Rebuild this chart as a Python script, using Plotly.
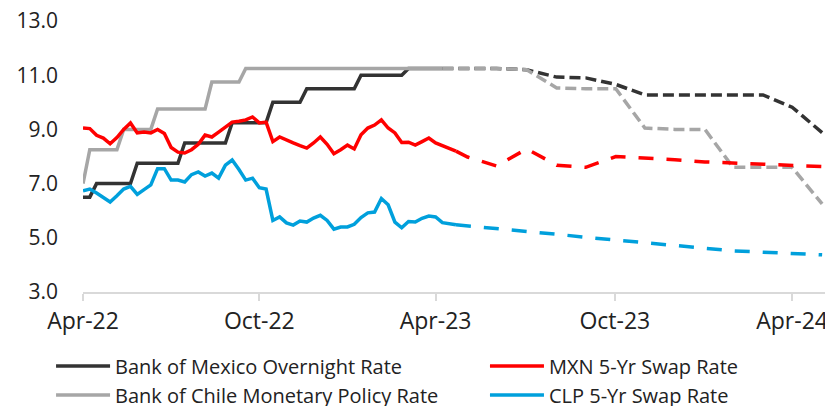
import pandas as pd
import plotly.graph_objects as go

# ---------------- data ----------------
hist_start = "2022-04-29"
hist_weeks = 56  # weekly observations (Fridays)
hist_dates = list(pd.date_range(hist_start, periods=hist_weeks, freq="7D"))

banxico_hist = [6.5, 6.5, 7.0, 7.0, 7.0, 7.0, 7.0, 7.0, 7.75, 7.75,
                7.75, 7.75, 7.75, 7.75, 7.75, 8.5, 8.5, 8.5, 8.5, 8.5,
                8.5, 8.5, 9.25, 9.25, 9.25, 9.25, 9.25, 9.25, 10.0, 10.0,
                10.0, 10.0, 10.0, 10.5, 10.5, 10.5, 10.5, 10.5, 10.5, 10.5,
                10.5, 11.0, 11.0, 11.0, 11.0, 11.0, 11.0, 11.0, 11.25, 11.25,
                11.25, 11.25, 11.25, 11.25]
bcch_hist = [7.0, 8.25, 8.25, 8.25, 8.25, 8.25, 9.0, 9.0, 9.0, 9.0,
             9.0, 9.75, 9.75, 9.75, 9.75, 9.75, 9.75, 9.75, 9.75, 10.75,
             10.75, 10.75, 10.75, 10.75, 11.25, 11.25, 11.25, 11.25, 11.25, 11.25,
             11.25, 11.25, 11.25, 11.25, 11.25, 11.25, 11.25, 11.25, 11.25, 11.25,
             11.25, 11.25, 11.25, 11.25, 11.25, 11.25, 11.25, 11.25, 11.25, 11.25,
             11.25, 11.25, 11.25, 11.25]
mxn_hist = [9.05, 9.03, 8.78, 8.68, 8.47, 8.70, 9.00, 9.24, 8.87, 8.90,
            8.87, 9.00, 8.85, 8.33, 8.16, 8.13, 8.25, 8.45, 8.79, 8.72,
            8.90, 9.09, 9.27, 9.30, 9.35, 9.46, 9.24, 9.27, 8.55, 8.72,
            8.60, 8.50, 8.40, 8.31, 8.50, 8.72, 8.45, 8.10, 8.25, 8.42,
            8.28, 8.80, 9.05, 9.16, 9.35, 9.05, 8.87, 8.52, 8.53, 8.42,
            8.55, 8.68, 8.50, 8.39, 8.28, 8.20]
clp_hist = [6.73, 6.80, 6.65, 6.50, 6.32, 6.55, 6.80, 6.90, 6.60, 6.78,
            6.95, 7.55, 7.55, 7.13, 7.13, 7.06, 7.33, 7.43, 7.28, 7.39,
            7.20, 7.68, 7.87, 7.52, 7.13, 7.20, 6.85, 6.80, 5.64, 5.77,
            5.55, 5.47, 5.62, 5.58, 5.73, 5.83, 5.64, 5.32, 5.40, 5.40,
            5.50, 5.75, 5.92, 5.95, 6.45, 6.22, 5.58, 5.37, 5.60, 5.58,
            5.72, 5.80, 5.77, 5.56, 5.52, 5.48]

fc_dates = ["2023-05-31", "2023-06-30", "2023-07-31", "2023-08-31", "2023-09-30",
            "2023-10-31", "2023-11-30", "2023-12-31", "2024-01-31", "2024-02-29",
            "2024-03-31", "2024-04-30", "2024-05-31"]
banxico_fc = [11.25, 11.25, 11.2, 10.93, 10.9, 10.66, 10.27, 10.27, 10.27, 10.27,
              10.27, 9.82, 8.88]
bcch_fc = [11.25, 11.25, 11.2, 10.53, 10.5, 10.5, 9.05, 9.0, 9.0, 7.6,
           7.6, 7.6, 6.25]
mxn_fc = [7.98, 7.65, 8.28, 7.68, 7.60, 8.00, 7.95, 7.88, 7.80, 7.76,
          7.72, 7.67, 7.63]
clp_fc = [5.44, 5.36, 5.26, 5.13, 5.02, 4.92, 4.82, 4.70, 4.60, 4.52,
          4.47, 4.42, 4.37]

names = ["Bank of Mexico Overnight Rate", "Bank of Chile Monetary Policy Rate",
         "MXN 5-Yr Swap Rate", "CLP 5-Yr Swap Rate"]
colors = ["#333333", "#A6A6A6", "#FF0000", "#00A0DC"]
legend_ids = ["legend", "legend", "legend2", "legend2"]

tick_vals = ["2022-04-29", "2022-10-28", "2023-04-28", "2023-10-30", "2024-04-30"]
tick_text = ["Apr-22", "Oct-22", "Apr-23", "Oct-23", "Apr-24"]
y_ticks = [3, 5, 7, 9, 11, 13]

# ---------------- figure ----------------
FONT = "Open Sans"
fig = go.Figure()
series = [(banxico_hist, banxico_fc), (bcch_hist, bcch_fc),
          (mxn_hist, mxn_fc), (clp_hist, clp_fc)]
dashes = ["11px,5px", "11px,5px", "15px,13px", "15px,13px"]
for (h, f), name, col, lg, dsh in zip(series, names, colors, legend_ids, dashes):
    hd = hist_dates[:len(h)]
    fig.add_trace(go.Scatter(x=hd, y=h, mode="lines", name=name,
                             line=dict(color=col, width=3.5), legend=lg))
    fig.add_trace(go.Scatter(x=[hd[-1]] + [pd.Timestamp(d) for d in fc_dates],
                             y=[h[-1]] + f, mode="lines", showlegend=False,
                             legend=lg,
                             line=dict(color=col, width=3.5, dash=dsh)))

legend_common = dict(orientation="v", xanchor="left", yanchor="top",
                     font=dict(family=FONT, size=20, color="#222222"),
                     itemwidth=54, bgcolor="rgba(0,0,0,0)", tracegroupgap=0)

# page body has an 8px margin, so the figure is sized to fill the rest
fig.update_layout(
    width=825, height=398,
    margin=dict(l=75, r=7, t=13, b=114, autoexpand=False),
    paper_bgcolor="white", plot_bgcolor="white",
    font=dict(family=FONT, size=20, color="#222222"),
    showlegend=True,
    legend=dict(x=-0.043, y=-0.201, **legend_common),
    legend2=dict(x=0.541, y=-0.201, **legend_common),
)
fig.update_xaxes(type="date", range=["2022-04-29", "2024-06-04"],
                 tickmode="array", tickvals=tick_vals, ticktext=tick_text,
                 showgrid=False, zeroline=False, showline=True,
                 linecolor="#D9D9D9", linewidth=2,
                 ticks="outside", ticklen=7, tickwidth=2, tickcolor="#D9D9D9",
                 tickfont=dict(size=23), ticklabeloverflow="allow")
fig.update_yaxes(range=[3, 13], tickmode="array", tickvals=y_ticks,
                 tickformat=".1f", showgrid=False, zeroline=False,
                 showline=False, ticks="", ticklabelstandoff=24,
                 tickfont=dict(size=21), ticklabeloverflow="allow")

fig.write_html("out.html")
